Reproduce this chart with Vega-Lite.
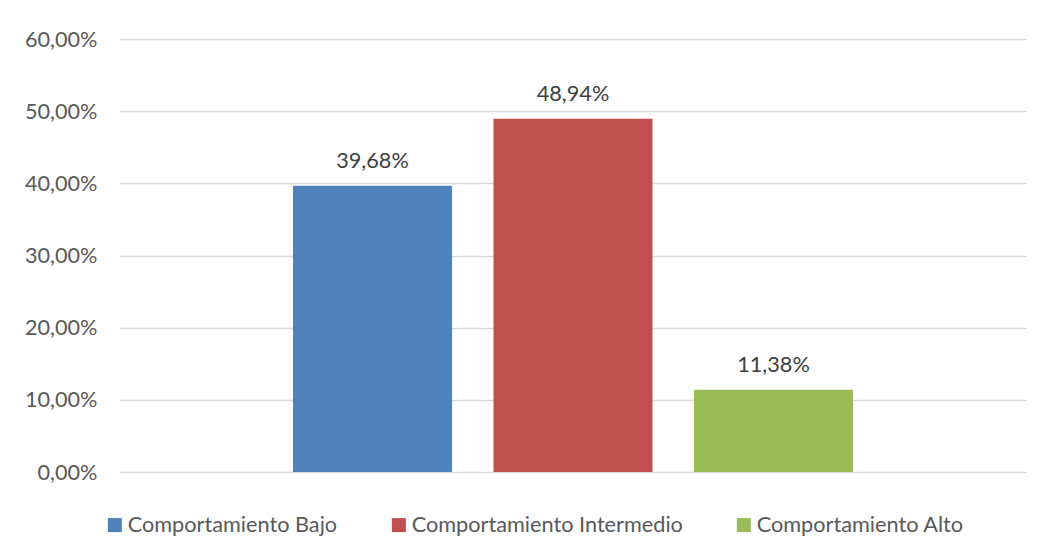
{
  "$schema": "https://vega.github.io/schema/vega-lite/v6.json",
  "autosize": {"type": "none"},
  "padding": {"left": 120, "top": 39, "right": 12, "bottom": 81},
  "width": 906,
  "height": 433,
  "background": "white",
  "config": {
    "view": {"stroke": null},
    "font": "Lato",
    "locale": {"number": {"decimal": ",", "thousands": ".", "grouping": [3], "currency": ["", " €"]}}
  },
  "data": {
    "values": [
      {"serie": "Comportamiento Bajo", "valor": 0.3968},
      {"serie": "Comportamiento Intermedio", "valor": 0.4894},
      {"serie": "Comportamiento Alto", "valor": 0.1138}
    ]
  },
  "encoding": {
    "x": {
      "field": "serie",
      "type": "nominal",
      "sort": null,
      "scale": {"paddingInner": 0.207, "paddingOuter": 0.863},
      "axis": null
    },
    "y": {
      "field": "valor",
      "type": "quantitative",
      "scale": {"domain": [0, 0.6], "nice": false},
      "axis": {
        "values": [0, 0.1, 0.2, 0.3, 0.4, 0.5, 0.6],
        "format": ".2%",
        "title": null,
        "domain": false,
        "ticks": false,
        "labelPadding": 23,
        "labelFontSize": 21.7,
        "labelColor": "#595959",
        "labelFont": "Lato",
        "gridColor": "#d9d9d9",
        "gridWidth": 1.3
      }
    }
  },
  "layer": [
    {
      "mark": {"type": "bar"},
      "encoding": {
        "color": {
          "field": "serie",
          "type": "nominal",
          "sort": null,
          "scale": {
            "domain": ["Comportamiento Bajo", "Comportamiento Intermedio", "Comportamiento Alto"],
            "range": ["#4F81BD", "#C0504D", "#9BBB59"]
          },
          "legend": {
            "title": null,
            "orient": "none",
            "direction": "horizontal",
            "legendX": -16,
            "legendY": 475,
            "symbolType": "square",
            "symbolSize": 196,
            "symbolStrokeWidth": 0,
            "symbolOpacity": 1,
            "labelFontSize": 21.7,
            "labelLimit": 0,
            "labelColor": "#595959",
            "labelFont": "Lato",
            "labelOffset": 2,
            "columnPadding": 50
          }
        }
      }
    },
    {
      "mark": {"type": "text", "dy": -18, "baseline": "alphabetic", "fontSize": 21.7, "color": "#404040", "font": "Lato"},
      "encoding": {
        "text": {"field": "valor", "type": "quantitative", "format": ".2%"}
      }
    }
  ]
}
